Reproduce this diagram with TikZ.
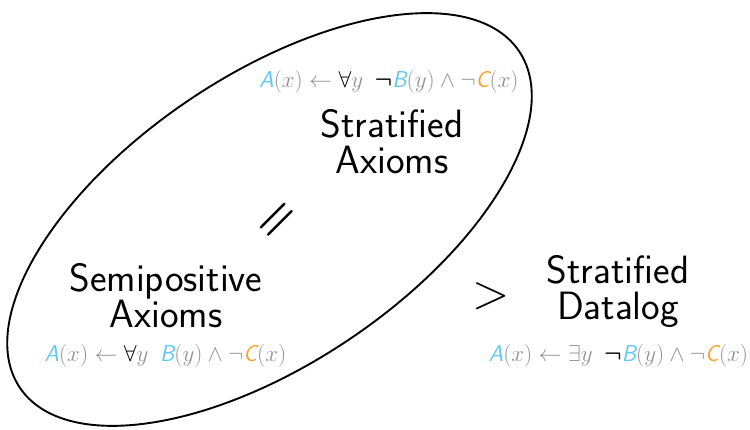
\RequirePackage{fix-cm}
\documentclass[tikz,border=0pt]{standalone}
\usepackage{amsmath}
\usepackage{fontspec}
\usepackage{xcolor}
\definecolor{cblue}{RGB}{95,200,245}
\definecolor{corange}{RGB}{250,160,50}
\definecolor{cgray}{RGB}{145,145,145}
\newcommand{\lA}{\textcolor{cblue}{\textsf{\slshape A}}}
\newcommand{\lB}{\textcolor{cblue}{\textsf{\slshape B}}}
\newcommand{\lC}{\textcolor{corange}{\textsf{\slshape C}}}
\newcommand{\bneg}{{\color{black}\boldsymbol{\neg}}}
\begin{document}
\begin{tikzpicture}[x=1pt,y=1pt,
  lbl/.style={font=\fontsize{39.5}{36}\selectfont\sffamily, align=center, inner sep=0pt, anchor=base},
  frm/.style={font=\fontsize{23}{26}\selectfont, text=cgray, inner sep=0pt, anchor=base},
  rel/.style={font=\fontsize{47}{47}\selectfont, inner sep=0pt}]
\useasboundingbox (0,0) rectangle (750,430);
\draw[line width=1.9pt, rotate around={34:(269.5,210.5)}] (269.5,210.5) ellipse [x radius=301, y radius=144];
\node[lbl] (strax) at (392,256) {Stratified\\Axioms};
\node[lbl] (semi) at (166,102) {Semipositive\\Axioms};
\node[lbl] (strdl) at (618,110) {Stratified\\Datalog};
\node[frm] (f1) at (389,342) {$\lA(x)\leftarrow{\color{black}\forall}y\enspace\bneg\lB(y)\wedge\neg\lC(x)$};
\node[frm] (f2) at (165.5,68) {$\lA(x)\leftarrow{\color{black}\forall}y\enspace\lB(y)\wedge\neg\lC(x)$};
\node[frm] (f3) at (618.5,68) {$\lA(x)\leftarrow\exists y\enspace\bneg\lB(y)\wedge\neg\lC(x)$};
\node[rel, rotate=45] (eq) at (279,208) {$\boldsymbol{=}$};
\node[rel, font=\fontsize{49}{49}\selectfont] (gt) at (491,134) {$>$};
\end{tikzpicture}
\end{document}
